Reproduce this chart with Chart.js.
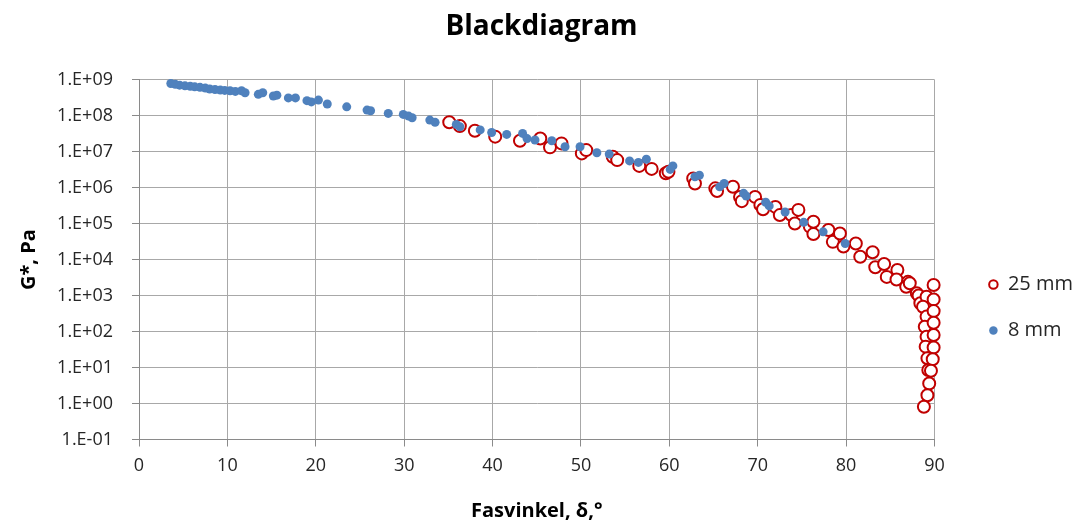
<!DOCTYPE html>
<html>
<head>
<meta charset="utf-8">
<script src="https://cdn.jsdelivr.net/npm/chart.js@4.4.1/dist/chart.umd.min.js"></script>
<style>
  html, body { margin: 0; padding: 0; background: #ffffff; }
  #wrap { width: 1083px; height: 524px; position: relative; }
</style>
</head>
<body>
<div id="wrap"><canvas id="c" width="1083" height="524"></canvas></div>
<script>
// ---- Data ----
const chartTitle = 'Blackdiagram';
const xAxisTitle = 'Fasvinkel, δ,°';
const yAxisTitle = 'G*, Pa';
const seriesNames = ['25 mm', '8 mm'];

// 25 mm series: phase angle (deg) and complex modulus G* (Pa)
const delta25mm = [35.1, 36.3, 38.0, 40.3, 43.1, 45.4, 46.5, 47.8, 50.1, 50.6,
  53.6, 54.1, 56.6, 58.0, 59.6, 59.9, 62.7, 62.9, 65.2, 65.4,
  67.2, 68.0, 68.2, 69.7, 70.3, 70.6, 72.0, 72.5, 73.8, 74.2,
  74.6, 75.9, 76.3, 76.3, 78.0, 78.5, 79.3, 79.7, 81.1, 81.6,
  83.0, 83.3, 84.3, 84.6, 85.8, 85.7, 87.0, 86.8, 87.2, 88.0,
  88.2, 88.4, 89.1, 88.7, 89.1, 88.9, 89.1, 89.0, 89.2, 89.3,
  89.9, 89.9, 89.9, 89.9, 89.9, 89.9, 89.8, 89.6, 89.4, 89.2, 88.8];
const g25mm = [6.5e7, 5.1e7, 3.8e7, 2.6e7, 2.0e7, 2.3e7, 1.31e7, 1.69e7, 8.9e6, 1.1e7,
  7.2e6, 5.8e6, 4.0e6, 3.3e6, 2.5e6, 2.75e6, 1.8e6, 1.3e6, 9.5e5, 8.0e5,
  1.05e6, 5.5e5, 4.2e5, 5.5e5, 3.3e5, 2.5e5, 2.9e5, 1.72e5, 1.72e5, 1.0e5,
  2.4e5, 8.2e4, 1.12e5, 5.1e4, 6.6e4, 3.1e4, 5.3e4, 2.3e4, 2.8e4, 1.2e4,
  1.6e4, 6.1e3, 7.5e3, 3.3e3, 5.1e3, 2.8e3, 2.4e3, 1.75e3, 2.2e3, 1.15e3,
  1.0e3, 6.1e2, 9.3e2, 4.9e2, 2.6e2, 1.36e2, 72, 38, 18, 8.5,
  1.96e3, 7.8e2, 3.7e2, 1.75e2, 80, 36, 17, 8.1, 3.6, 1.7, 0.81];

// 8 mm series
const delta8mm = [3.6, 4.1, 4.6, 5.2, 5.8, 6.3, 6.9, 7.5, 8.0, 8.6,
  9.2, 9.7, 10.3, 10.9, 11.6, 12.0, 13.5, 14.0, 15.2, 15.6,
  16.9, 17.7, 19.0, 19.5, 20.3, 21.3, 23.5, 25.8, 26.2, 28.2,
  29.9, 30.5, 30.9, 32.9, 33.5, 35.9, 36.3, 38.6, 39.9, 41.6,
  43.4, 43.9, 44.8, 46.7, 48.2, 49.9, 51.8, 53.2, 55.5, 56.5,
  57.4, 60.1, 60.4, 62.9, 63.4, 65.7, 66.2, 68.4, 68.7, 70.9,
  71.3, 73.1, 75.2, 77.4, 79.9];
const g8mm = [7.8e8, 7.4e8, 7.0e8, 6.7e8, 6.5e8, 6.3e8, 6.1e8, 5.8e8, 5.5e8, 5.3e8,
  5.1e8, 5.0e8, 4.9e8, 4.7e8, 4.9e8, 4.3e8, 3.9e8, 4.3e8, 3.5e8, 3.7e8,
  3.1e8, 3.1e8, 2.6e8, 2.4e8, 2.7e8, 2.1e8, 1.75e8, 1.42e8, 1.36e8, 1.15e8,
  1.08e8, 9.7e7, 8.7e7, 7.5e7, 6.5e7, 5.7e7, 4.9e7, 4.0e7, 3.4e7, 3.0e7,
  3.2e7, 2.3e7, 2.1e7, 2.0e7, 1.36e7, 1.36e7, 9.3e6, 8.5e6, 5.5e6, 5.0e6,
  6.1e6, 3.2e6, 4.0e6, 2.0e6, 2.2e6, 1.05e6, 1.3e6, 6.9e5, 5.8e5, 3.9e5,
  3.1e5, 2.1e5, 1.08e5, 5.9e4, 2.8e4];

// Axis ticks
const yTickValues = [1e-1, 1e0, 1e1, 1e2, 1e3, 1e4, 1e5, 1e6, 1e7, 1e8, 1e9];
const yTickLabels = ['1.E-01', '1.E+00', '1.E+01', '1.E+02', '1.E+03', '1.E+04',
  '1.E+05', '1.E+06', '1.E+07', '1.E+08', '1.E+09'];
const xTickValues = [0, 10, 20, 30, 40, 50, 60, 70, 80, 90];

// ---- Build chart ----
const toPoints = (xs, ys) => xs.map((x, i) => ({ x: x, y: ys[i] }));
const FONT = '"Open Sans", Lato, sans-serif';
const GRID = '#a8a8a8';
const AXIS = '#8a8a8a';
const TEXT = '#262626';

new Chart(document.getElementById('c'), {
  type: 'scatter',
  data: {
    datasets: [
      {
        label: seriesNames[0],
        data: toPoints(delta25mm, g25mm),
        pointStyle: 'circle',
        pointRadius: 6,
        pointBorderWidth: 2,
        pointBackgroundColor: '#ffffff',
        backgroundColor: '#ffffff',
        borderColor: '#c00000',
        pointBorderColor: '#c00000',
        clip: false,
        order: 1
      },
      {
        label: seriesNames[1],
        data: toPoints(delta8mm, g8mm),
        pointStyle: 'circle',
        pointRadius: 4.5,
        pointBorderWidth: 0,
        pointBackgroundColor: '#4f81bd',
        backgroundColor: '#4f81bd',
        borderColor: '#4f81bd',
        pointBorderColor: '#4f81bd',
        clip: false,
        order: 0
      }
    ]
  },
  options: {
    responsive: false,
    animation: false,
    events: [],
    layout: { padding: { left: 0, right: 0, top: 0, bottom: 0 } },
    plugins: {
      title: {
        display: true,
        text: chartTitle,
        color: '#000000',
        font: { family: FONT, size: 28, weight: 'bold', lineHeight: 1.2 },
        padding: { top: 10, bottom: 36 }
      },
      legend: {
        display: true,
        position: 'right',
        align: 'center',
        title: { display: true, text: ' ', font: { size: 10, lineHeight: 1.2 }, padding: { top: 79, bottom: 0 } },
        labels: {
          usePointStyle: true,
          boxWidth: 9,
          boxHeight: 6,
          padding: 26,
          color: TEXT,
          font: { family: FONT, size: 20 },
          sort: (a, b) => a.datasetIndex - b.datasetIndex
        }
      },
      tooltip: { enabled: false }
    },
    scales: {
      x: {
        type: 'linear',
        min: 0,
        max: 90,
        afterBuildTicks: (s) => { s.ticks = xTickValues.map(v => ({ value: v })); },
        afterFit: (s) => { s.height = 84.5; },
        grid: { color: GRID, lineWidth: 1, tickLength: 7, tickColor: AXIS, drawTicks: true },
        border: { color: AXIS, width: 1 },
        ticks: { color: TEXT, font: { family: FONT, size: 18 }, padding: 9, maxRotation: 0 },
        title: {
          display: true,
          text: xAxisTitle,
          color: '#000000',
          font: { family: FONT, size: 20, weight: 'bold', lineHeight: 1.2 },
          padding: { top: 0, bottom: 1 }
        }
      },
      y: {
        type: 'logarithmic',
        min: 0.1,
        max: 1e9,
        afterBuildTicks: (s) => { s.ticks = yTickValues.map(v => ({ value: v })); },
        afterFit: (s) => { s.width = 139; },
        grid: { color: GRID, lineWidth: 1, tickLength: 7, tickColor: AXIS },
        border: { color: AXIS, width: 1 },
        ticks: {
          color: TEXT,
          font: { family: FONT, size: 18 },
          padding: 19,
          callback: (v) => {
            const i = yTickValues.findIndex(t => Math.abs(Math.log10(t) - Math.log10(v)) < 1e-6);
            return i >= 0 ? yTickLabels[i] : '';
          }
        },
        title: {
          display: true,
          text: yAxisTitle,
          color: '#000000',
          font: { family: FONT, size: 20, weight: 'bold', lineHeight: 1.2 },
          padding: { top: 17, bottom: 0 }
        }
      },
      gap: {
        type: 'linear',
        position: 'right',
        display: true,
        afterFit: (s) => { s.width = 28.4; },
        grid: { display: false, drawTicks: false },
        border: { display: false },
        ticks: { display: false }
      }
    }
  }
});
</script>
</body>
</html>
